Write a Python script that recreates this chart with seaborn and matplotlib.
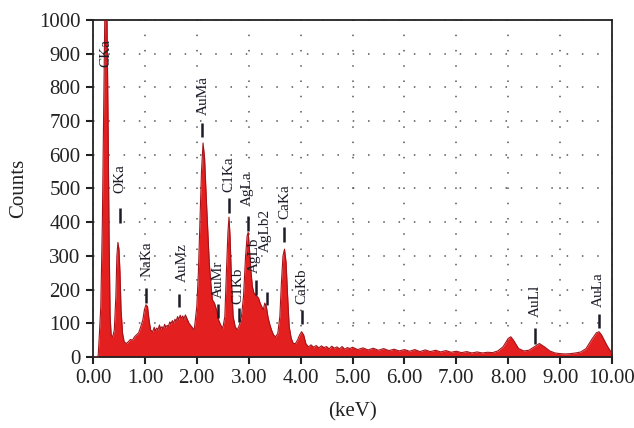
import pandas as pd
import matplotlib
matplotlib.use("Agg")
import matplotlib.pyplot as plt
import seaborn as sns

sns.set_theme(style="ticks")
plt.rcParams["font.family"] = ["Liberation Serif", "DejaVu Serif"]

# spectrum
energy = [0.00, 0.08, 0.10, 0.12, 0.15, 0.18, 0.21, 0.23, 0.25, 0.27, 0.29, 0.31, 0.33, 0.35, 0.38,
          0.41, 0.44, 0.46, 0.48, 0.50, 0.52, 0.54, 0.57, 0.60, 0.64, 0.68, 0.72, 0.76, 0.80, 0.84,
          0.88, 0.92, 0.96, 0.99, 1.02, 1.05, 1.08, 1.11, 1.15, 1.18, 1.20, 1.23, 1.25, 1.28, 1.30,
          1.33, 1.35, 1.38, 1.40, 1.43, 1.45, 1.48, 1.50, 1.53, 1.55, 1.58, 1.60, 1.63, 1.65, 1.68,
          1.70, 1.73, 1.75, 1.78, 1.80, 1.85, 1.90, 1.95, 2.00, 2.03, 2.06, 2.09, 2.12,
          2.15, 2.18, 2.21, 2.24, 2.27, 2.30, 2.34, 2.38, 2.42, 2.46, 2.50, 2.54, 2.57, 2.60, 2.62,
          2.64, 2.67, 2.70, 2.74, 2.78, 2.82, 2.86, 2.90, 2.94, 2.97, 2.99, 3.01, 3.04, 3.07, 3.10,
          3.13, 3.16, 3.19, 3.22, 3.25, 3.28, 3.31, 3.34, 3.37, 3.40, 3.44, 3.48, 3.52, 3.56, 3.60,
          3.63, 3.66, 3.69, 3.72, 3.75, 3.78, 3.82, 3.86, 3.90, 3.94, 3.98, 4.02, 4.06, 4.10, 4.15,
          4.20, 4.25, 4.30, 4.35, 4.40, 4.45, 4.50, 4.55, 4.60, 4.65, 4.70, 4.75, 4.80, 4.85, 4.90,
          4.95, 5.00, 5.10, 5.20, 5.30, 5.40, 5.50, 5.60, 5.70, 5.80, 5.90, 6.00, 6.10, 6.20, 6.30,
          6.40, 6.50, 6.60, 6.70, 6.80, 6.90, 7.00, 7.10, 7.20, 7.30, 7.40, 7.50, 7.60, 7.70, 7.80,
          7.90, 8.00, 8.05, 8.10, 8.20, 8.30, 8.40,
          8.50, 8.60, 8.70, 8.80, 8.90, 9.00, 9.10, 9.20, 9.30, 9.40, 9.50, 9.60, 9.70, 9.75, 9.80,
          9.90, 10.00]
counts = [0, 0, 5, 60, 150, 400, 800, 1050, 1080, 1000, 700, 350, 120, 65, 60,
          80, 180, 300, 340, 320, 250, 140, 70, 45, 40, 45, 52, 50, 60, 66,
          72, 90, 110, 140, 155, 150, 110, 80, 75, 88, 78, 86, 80, 95, 84,
          90, 82, 97, 88, 94, 90, 104, 98, 108, 100, 112, 106, 120, 110, 124,
          115, 122, 112, 125, 118, 100, 90, 80, 150, 250, 400, 550, 635,
          590, 480, 380, 280, 220, 170, 160, 140, 110, 95, 85, 120, 250, 370, 415,
          360, 220, 120, 90, 80, 95, 120, 180, 300, 360, 370, 330, 260, 210, 190,
          185, 180, 175, 160, 150, 140, 160, 150, 120, 100, 80, 65, 60, 70, 120,
          220, 300, 320, 280, 180, 90, 55, 40, 40, 50, 65, 75, 65, 40, 30,
          36, 29, 34, 27, 33, 28, 31, 24, 32, 26, 30, 24, 31, 23, 28,
          25, 29, 22, 27, 21, 26, 20, 25, 19, 23, 18, 22, 17, 22, 16,
          21, 16, 20, 15, 19, 14, 17, 13, 16, 12, 15, 12, 14, 13, 18,
          30, 55, 60, 50, 25, 18, 20,
          30, 40, 30, 18, 12, 10, 9, 10, 12, 15, 25, 50, 72, 75, 65,
          35, 10]

# peak labels: name, label x, label bottom, marker x, marker top, marker bottom
peak_names = ["CKa", "OKa", "NaKa", "AuMz", "AuMa", "AuMr", "C1Ka", "C1Kb", "AgLa",
              "AgLb", "AgLb2", "CaKa", "CaKb", "AuLl", "AuLa"]
label_x = [0.25, 0.52, 1.05, 1.72, 2.12, 2.41, 2.62, 2.79, 2.97, 3.11, 3.33, 3.70, 4.03, 8.52, 9.73]
label_y = [860, 487, 237, 223, 718, 175, 490, 157, 448, 249, 312, 409, 157, 119, 148]
mark_x = [None, 0.52, 1.02, 1.66, 2.10, 2.41, 2.62, 2.81, 2.98, 3.14, 3.35, 3.68, 4.03, 8.52, 9.75]
mark_hi = [None, 442, 205, 187, 694, 157, 472, 145, 418, 228, 193, 386, 139, 86, 128]
mark_lo = [None, 398, 160, 148, 653, 116, 427, 104, 374, 184, 154, 341, 98, 39, 86]

df = pd.DataFrame({"keV": energy, "Counts": counts})

fig = plt.figure(figsize=(6.34, 4.28), dpi=100)
ax = fig.add_axes([0.1467, 0.1659, 0.8186, 0.7874])

ax.fill_between(df["keV"], df["Counts"], color="#e41f1f", linewidth=0, zorder=2)
sns.lineplot(x="keV", y="Counts", data=df, color="#a3141a", linewidth=0.8, ax=ax, zorder=3)

ink = "#1c1c28"
for name, lx, ly, mx, hi, lo in zip(peak_names, label_x, label_y, mark_x, mark_hi, mark_lo):
    ax.text(lx, ly, name, rotation=90, ha="center", va="bottom", fontsize=11,
            color=ink, zorder=5)
    if mx is not None:
        ax.vlines(mx, lo, hi, color=ink, linewidth=1.8, zorder=5)

ax.set_xlim(0, 10)
ax.set_ylim(0, 1000)
ax.set_xticks(range(0, 11))
ax.set_xticklabels([f"{v:.2f}" for v in range(0, 11)])
ax.set_yticks(range(0, 1001, 100))
ax.grid(True, color="#555555", linestyle=(0, (1, 9)), linewidth=1.1)
ax.set_axisbelow(True)
for s in ax.spines.values():
    s.set_visible(True)
    s.set_color("#222222")
    s.set_linewidth(1.3)
ax.tick_params(axis="both", direction="out", length=5, width=1.5, color="#222222",
               labelsize=15, labelcolor="#222222", pad=4)
ax.set_xlabel("(keV)", fontsize=15, color="#222222", labelpad=10)
ax.set_ylabel("Counts", fontsize=15, color="#222222", labelpad=8)

fig.savefig("out.png", dpi=100)
